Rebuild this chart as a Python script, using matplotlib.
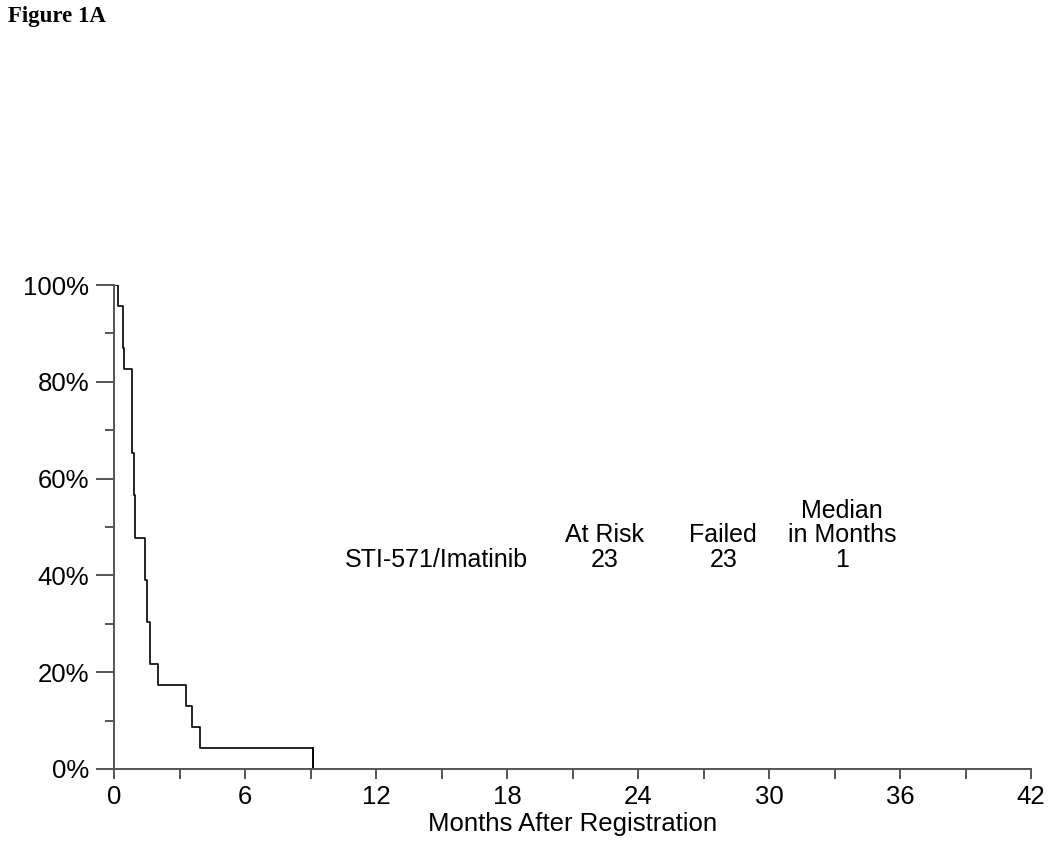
import numpy as np
import matplotlib.pyplot as plt

# Tempi di fallimento (mesi), 23 pazienti, nessun censurato
failure_months = [0.20, 0.41, 0.41, 0.47, 0.81, 0.81, 0.81, 0.81, 0.90, 0.93,
                  0.97, 0.97, 1.40, 1.40, 1.50, 1.50, 1.63, 1.67, 2.02, 3.31,
                  3.55, 3.92, 9.10]
group_name = "STI-571/Imatinib"
at_risk = 23
failed = 23
median_months = "1"

x_ticks = [0, 6, 12, 18, 24, 30, 36, 42]
y_ticks = [0, 20, 40, 60, 80, 100]

plt.rcParams['font.family'] = ['Liberation Sans', 'DejaVu Sans']

# Kaplan-Meier senza censure
times = np.sort(np.array(failure_months))
uniq, counts = np.unique(times, return_counts=True)
n = at_risk
surv = [100.0]
step_x = [0.0]
remaining = n
for t, c in zip(uniq, counts):
    remaining -= c
    step_x.append(t)
    surv.append(100.0 * remaining / n)

fig = plt.figure(figsize=(10.5, 8.42), dpi=100)
ax = fig.add_axes([0.1086, 0.0867, 0.8734, 0.5748])

ax.step(step_x, surv, where='post', color='black', lw=1.2)
ax.plot([step_x[-1], step_x[-1]], [surv[-2], 0], color='black', lw=1.2)

ax.set_xlim(0, 42)
ax.set_ylim(0, 100)
for s in ['top', 'right']:
    ax.spines[s].set_visible(False)
axis_col = '#555555'
for s in ['left', 'bottom']:
    ax.spines[s].set_color(axis_col)
    ax.spines[s].set_linewidth(1.4)

ax.set_xticks(x_ticks)
ax.set_xticks(np.arange(3, 42, 6), minor=True)
ax.set_yticks(y_ticks)
ax.set_yticks(np.arange(10, 100, 20), minor=True)
ax.set_yticklabels([f"{v}%" for v in y_ticks])
ax.tick_params(axis='x', which='both', length=7.2, width=1.4, color=axis_col,
               labelsize=18.5, pad=4.5)
ax.tick_params(axis='y', which='major', length=13, width=1.4, color=axis_col,
               labelsize=18.5, pad=5)
ax.tick_params(axis='y', which='minor', length=6.5, width=1.4, color=axis_col)
ax.set_xlabel("Months After Registration", fontsize=18.5, labelpad=2)

# Tabella riassuntiva
fs = 18
ax.text(14.75, 43.2, group_name, ha='center', va='center', fontsize=fs)
ax.text(22.45, 48.3, "At Risk", ha='center', va='center', fontsize=fs)
ax.text(22.45, 43.2, str(at_risk), ha='center', va='center', fontsize=fs)
ax.text(27.9, 48.3, "Failed", ha='center', va='center', fontsize=fs)
ax.text(27.9, 43.2, str(failed), ha='center', va='center', fontsize=fs)
ax.text(33.35, 53.3, "Median", ha='center', va='center', fontsize=fs)
ax.text(33.35, 48.3, "in Months", ha='center', va='center', fontsize=fs)
ax.text(33.35, 43.2, median_months, ha='center', va='center', fontsize=fs)

fig.text(8 / 1050, 1 - 6 / 842, "Figure 1A", ha='left', va='top',
         fontsize=16.5, fontweight='bold', family=['Liberation Serif', 'DejaVu Serif'])

fig.savefig("out.png", dpi=100)
